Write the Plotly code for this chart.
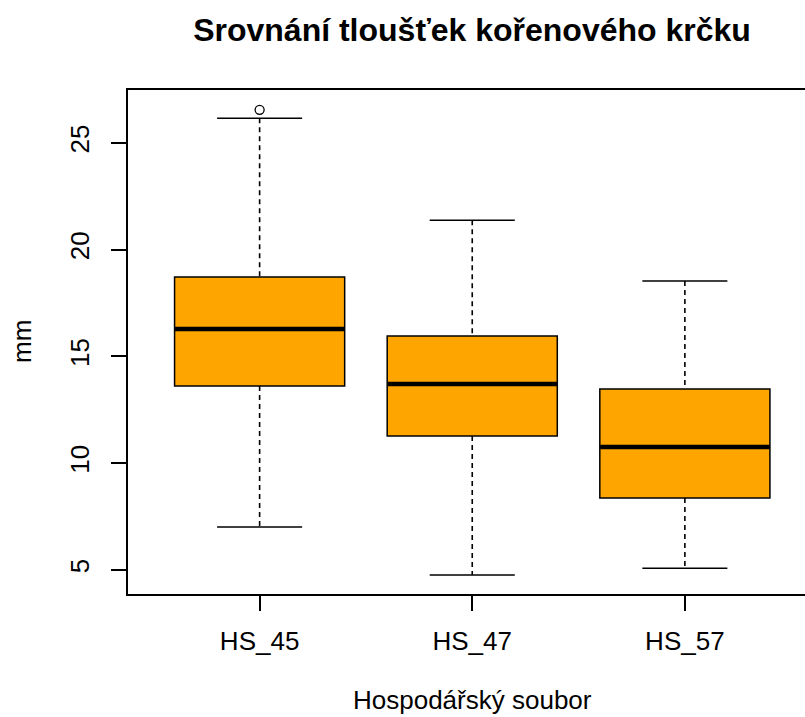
import plotly.graph_objects as go

# statistiky boxplotu
skupiny = ["HS_45", "HS_47", "HS_57"]
q1 = [13.62, 11.28, 8.37]
median = [16.29, 13.71, 10.76]
q3 = [18.72, 15.96, 13.48]
dolni_vous = [7.01, 4.77, 5.08]
horni_vous = [26.16, 21.38, 18.54]
odlehle_skupina = ["HS_45"]
odlehle_hodnota = [26.55]

y_ticks = [5, 10, 15, 20, 25]

pozice = list(range(1, len(skupiny) + 1))
sirka = 0.8

fig = go.Figure()

# vousy (čárkované)
wx, wy = [], []
for p, a, b, lo, hi in zip(pozice, q1, q3, dolni_vous, horni_vous):
    wx += [p, p, None, p, p, None]
    wy += [hi, b, None, a, lo, None]
fig.add_trace(go.Scatter(x=wx, y=wy, mode="lines",
                         line=dict(color="black", width=1.6, dash="5px,4px"),
                         hoverinfo="skip", showlegend=False))

# krajní čárky vousů
cx, cy = [], []
for p, lo, hi in zip(pozice, dolni_vous, horni_vous):
    cx += [p - sirka / 4, p + sirka / 4, None, p - sirka / 4, p + sirka / 4, None]
    cy += [hi, hi, None, lo, lo, None]
fig.add_trace(go.Scatter(x=cx, y=cy, mode="lines",
                         line=dict(color="black", width=1.5),
                         hoverinfo="skip", showlegend=False))

# krabice
fig.add_trace(go.Bar(
    x=pozice,
    y=[b - a for a, b in zip(q1, q3)],
    base=q1,
    width=sirka,
    marker=dict(color="#FFA500", line=dict(color="black", width=1.5)),
    hoverinfo="skip",
    showlegend=False,
))

# mediány
mx, my = [], []
for p, m in zip(pozice, median):
    mx += [p - sirka / 2, p + sirka / 2, None]
    my += [m, m, None]
fig.add_trace(go.Scatter(x=mx, y=my, mode="lines",
                         line=dict(color="black", width=4.5),
                         hoverinfo="skip", showlegend=False))

# odlehlé hodnoty
fig.add_trace(go.Scatter(
    x=[pozice[skupiny.index(s)] for s in odlehle_skupina],
    y=odlehle_hodnota,
    mode="markers",
    marker=dict(symbol="circle-open", size=9, color="black", line=dict(width=1.3)),
    showlegend=False,
))

font_name = "Liberation Sans, Arial, sans-serif"

fig.update_layout(
    width=805,
    height=717,
    margin=dict(l=128, r=0, t=90, b=123),
    plot_bgcolor="white",
    paper_bgcolor="white",
    font=dict(family=font_name, size=26, color="black"),
    title=dict(
        text="<b>Srovnání tloušťek kořenového krčku</b>",
        x=472 / 805, xanchor="center", xref="container",
        y=1 - 30 / 717, yanchor="middle", yref="container",
        font=dict(size=32, family=font_name, color="black"),
    ),
    xaxis=dict(
        range=[0.381, 3.565],
        tickvals=pozice,
        ticktext=skupiny,
        ticks="outside", ticklen=15, tickwidth=1.5, tickcolor="black",
        ticklabelstandoff=8,
        showline=True, linecolor="black", linewidth=1.5, mirror=True,
        showgrid=False, zeroline=False,
        tickfont=dict(size=26),
    ),
    yaxis=dict(
        range=[3.876, 27.48],
        tickvals=y_ticks,
        tickangle=-90,
        ticks="outside", ticklen=15, tickwidth=1.5, tickcolor="black",
        ticklabelstandoff=12,
        showline=True, linecolor="black", linewidth=1.5, mirror=False,
        showgrid=False, zeroline=False,
        tickfont=dict(size=26),
    ),
    annotations=[
        dict(text="mm", textangle=-90, x=(22 - 128) / 677, y=0.5,
             xref="paper", yref="paper", xanchor="center", yanchor="middle",
             showarrow=False, font=dict(size=26)),
        dict(text="Hospodářský soubor", x=(472 - 128) / 677, y=-(700 - 594) / 504,
             xref="paper", yref="paper", xanchor="center", yanchor="middle",
             showarrow=False, font=dict(size=26)),
    ],
)

# bez okraje stránky, aby graf přesně vyplnil okno
fig.write_html(
    "out.html",
    config={"displayModeBar": False},
    post_script="document.body.style.margin='0';document.body.style.overflow='hidden';",
)
